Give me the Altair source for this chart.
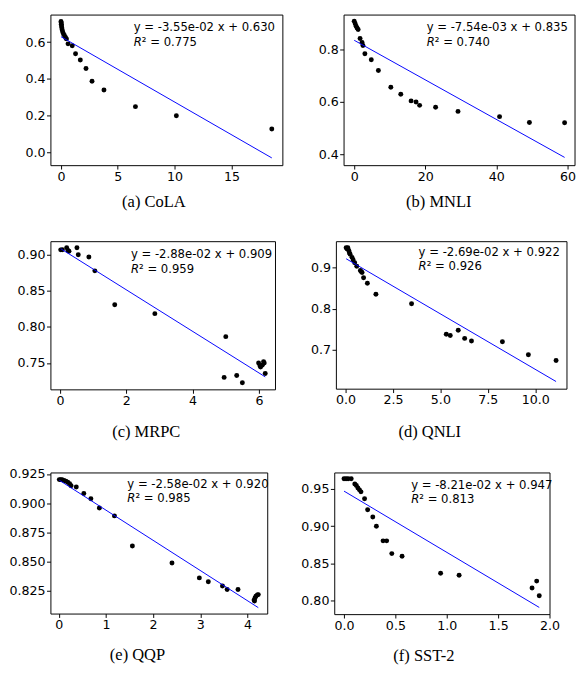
import altair as alt
import pandas as pd

# ---------------- data ----------------
cola_x = [0.00, 0.02, 0.03, 0.05, 0.07, 0.10, 0.15, 0.22, 0.30, 0.40, 0.48, 0.62, 0.99, 1.28, 1.70, 2.20, 2.73, 3.78, 6.55, 10.15, 18.55]
cola_y = [0.712, 0.705, 0.697, 0.688, 0.678, 0.668, 0.655, 0.645, 0.636, 0.625, 0.618, 0.591, 0.581, 0.537, 0.503, 0.457, 0.388, 0.340, 0.250, 0.200, 0.129]

mnli_x = [0.0, 0.27, 0.55, 0.8, 1.1, 1.64, 2.2, 2.45, 3.0, 4.8, 6.8, 10.3, 13.1, 16.0, 17.4, 18.4, 22.9, 29.2, 40.9, 49.3, 59.2]
mnli_y = [0.908, 0.898, 0.889, 0.882, 0.876, 0.842, 0.827, 0.815, 0.784, 0.761, 0.720, 0.656, 0.629, 0.604, 0.600, 0.587, 0.580, 0.564, 0.544, 0.522, 0.521]

mrpc_x = [0.02, 0.07, 0.20, 0.24, 0.27, 0.51, 0.55, 0.87, 1.05, 1.65, 2.86, 5.00, 4.95, 5.33, 5.50, 5.99, 6.03, 6.05, 6.10, 6.14, 6.16, 6.19]
mrpc_y = [0.9068, 0.907, 0.9096, 0.906, 0.905, 0.9096, 0.900, 0.897, 0.8777, 0.8307, 0.8184, 0.7865, 0.730, 0.7326, 0.7226, 0.750, 0.7463, 0.7445, 0.747, 0.7518, 0.750, 0.7353]

qnli_x = [0.03, 0.08, 0.12, 0.17, 0.20, 0.24, 0.34, 0.40, 0.48, 0.59, 0.78, 0.82, 0.87, 0.95, 1.15, 1.60, 3.48, 5.31, 5.52, 5.94, 6.28, 6.64, 8.27, 9.64, 11.10]
qnli_y = [0.9477, 0.945, 0.9477, 0.9415, 0.936, 0.932, 0.9246, 0.918, 0.9115, 0.903, 0.893, 0.890, 0.888, 0.875, 0.862, 0.835, 0.812, 0.738, 0.735, 0.748, 0.728, 0.7215, 0.720, 0.6885, 0.6746]

qqp_x = [0.01, 0.04, 0.07, 0.11, 0.15, 0.19, 0.23, 0.26, 0.37, 0.53, 0.68, 0.86, 1.18, 1.56, 2.40, 2.98, 3.17, 3.47, 3.57, 3.80, 4.14, 4.15, 4.16, 4.18, 4.21, 4.23]
qqp_y = [0.9203, 0.9203, 0.9201, 0.9195, 0.919, 0.918, 0.9168, 0.915, 0.914, 0.9085, 0.904, 0.896, 0.8893, 0.8635, 0.849, 0.8363, 0.833, 0.8294, 0.8264, 0.8264, 0.8173, 0.8165, 0.8192, 0.8206, 0.8217, 0.822]

sst2_x = [0.00, 0.02, 0.04, 0.07, 0.105, 0.12, 0.135, 0.15, 0.165, 0.20, 0.23, 0.28, 0.315, 0.38, 0.415, 0.465, 0.565, 0.94, 1.12, 1.83, 1.875, 1.90]
sst2_y = [0.9636, 0.9636, 0.9636, 0.9636, 0.9566, 0.9544, 0.9513, 0.9487, 0.946, 0.9368, 0.9219, 0.9123, 0.900, 0.8803, 0.8803, 0.8632, 0.8596, 0.8368, 0.8342, 0.8171, 0.8263, 0.8066]

captions = ["(a) CoLA", "(b) MNLI", "(c) MRPC", "(d) QNLI", "(e) QQP", "(f) SST-2"]
slopes = [-3.55e-02, -7.54e-03, -2.88e-02, -2.69e-02, -2.58e-02, -8.21e-02]
intercepts = [0.630, 0.835, 0.909, 0.922, 0.920, 0.947]
r2_values = ["0.775", "0.740", "0.959", "0.926", "0.985", "0.813"]
eq_texts = ["y = -3.55e-02 x + 0.630", "y = -7.54e-03 x + 0.835", "y = -2.88e-02 x + 0.909",
            "y = -2.69e-02 x + 0.922", "y = -2.58e-02 x + 0.920", "y = -8.21e-02 x + 0.947"]

x_domains = [[-0.93, 19.48], [-3.0, 62.0], [-0.29, 6.485], [-0.51, 11.65], [-0.178, 4.42], [-0.095, 2.0]]
y_domains = [[-0.068, 0.75], [0.359, 0.933], [0.7134, 0.9188], [0.606, 0.9638], [0.8058, 0.9264], [0.782, 0.972]]
x_ticks = [[0, 5, 10, 15], [0, 20, 40, 60], [0, 2, 4, 6], [0, 2.5, 5, 7.5, 10], [0, 1, 2, 3, 4], [0, 0.5, 1, 1.5, 2]]
y_ticks = [[0, 0.2, 0.4, 0.6], [0.4, 0.6, 0.8], [0.75, 0.80, 0.85, 0.90], [0.7, 0.8, 0.9],
           [0.825, 0.85, 0.875, 0.9, 0.925], [0.80, 0.85, 0.90, 0.95]]
x_formats = ["d", "d", "d", ".1f", "d", ".1f"]
y_formats = [".1f", ".1f", ".2f", ".1f", ".3f", ".2f"]

# ---------------- layout (styles) ----------------
widths = [239.2, 238.2, 231.6, 237.8, 223.6, 222.0]
heights = [155.3, 155.3, 152.8, 152.1, 145.5, 146.1]
extents = [34.8, 40, 42.7, 40, 50.7, 40]
text_x = [85.9, 85.7, 83.0, 85.3, 79.3, 79.3]
text_y1 = [12.7, 13.3, 13.5, 11.0, 11.8, 12.8]
text_y2 = [28.3, 28.3, 29.0, 26.0, 26.2, 27.0]
cap_x = [106.2, 97.7, 98.3, 96.3, 89.3, 92.0]
cap_y = [37.7, 37.7, 44.0, 44.7, 42.5, 42.5]

all_x = [cola_x, mnli_x, mrpc_x, qnli_x, qqp_x, sst2_x]
all_y = [cola_y, mnli_y, mrpc_y, qnli_y, qqp_y, sst2_y]

FONT = "DejaVu Sans"


def panel(i):
    xs, ys = all_x[i], all_y[i]
    pts = pd.DataFrame({"x": xs, "y": ys})
    xscale = alt.Scale(domain=x_domains[i], nice=False, zero=False)
    yscale = alt.Scale(domain=y_domains[i], nice=False, zero=False)
    xaxis = alt.Axis(values=x_ticks[i], tickCount=len(x_ticks[i]) + 2, format=x_formats[i],
                     title=captions[i], titleX=cap_x[i], titleY=cap_y[i], titleAlign="center",
                     titleBaseline="middle", labelFlush=False, labelOverlap=False,
                     labelPadding=1.5)
    yaxis = alt.Axis(values=y_ticks[i], tickCount=len(y_ticks[i]) + 2, format=y_formats[i],
                     title=None, minExtent=extents[i], maxExtent=extents[i],
                     labelOverlap=False, labelPadding=1.5)

    points = alt.Chart(pts).mark_circle(size=26, color="black", opacity=1).encode(
        x=alt.X("x:Q", scale=xscale, axis=xaxis),
        y=alt.Y("y:Q", scale=yscale, axis=yaxis),
    )
    line_df = pd.DataFrame({"x": [min(xs), max(xs)]})
    line = alt.Chart(line_df).transform_calculate(
        y=f"{intercepts[i]} + ({slopes[i]}) * datum.x"
    ).mark_line(color="#0000ff", strokeWidth=1).encode(
        x=alt.X("x:Q", scale=xscale),
        y=alt.Y("y:Q", scale=yscale),
    )
    eq = alt.Chart(pd.DataFrame({"t": [eq_texts[i]]})).mark_text(
        font=FONT, fontSize=12, align="left", baseline="middle", color="black"
    ).encode(text="t:N", x=alt.value(text_x[i]), y=alt.value(text_y1[i]))
    r_letter = alt.Chart(pd.DataFrame({"t": ["R"]})).mark_text(
        font=FONT, fontSize=12, fontStyle="italic", align="left", baseline="middle", color="black"
    ).encode(text="t:N", x=alt.value(text_x[i]), y=alt.value(text_y2[i]))
    r_rest = alt.Chart(pd.DataFrame({"t": ["\u00b2 = " + r2_values[i]]})).mark_text(
        font=FONT, fontSize=12, align="left", baseline="middle", color="black", dx=8.4
    ).encode(text="t:N", x=alt.value(text_x[i]), y=alt.value(text_y2[i]))
    return alt.layer(points, line, eq, r_letter, r_rest).properties(
        width=widths[i], height=heights[i])


row1 = alt.concat(panel(0), panel(1), columns=2, align="none", bounds="flush", spacing=62.3)
row2 = alt.concat(panel(2), panel(3), columns=2, align="none", bounds="flush", spacing=62.4)
row3 = alt.concat(panel(4), panel(5), columns=2, align="none", bounds="flush", spacing=68.7)

top_block = alt.concat(row1, row2, columns=1, align="none", spacing=30.7)
chart = alt.concat(top_block, row3, columns=1, align="none", spacing=28.2).properties(
    padding={"left": 0, "top": 3.5, "right": 0, "bottom": 0},
    background="white",
).configure_view(
    stroke="#000000", strokeWidth=1
).configure_axis(
    grid=False, domain=False,
    labelFont=FONT, labelFontSize=13, labelColor="black",
    tickColor="black", tickSize=4, tickWidth=1,
    titleFont="Liberation Serif", titleFontSize=17, titleFontWeight="normal", titleColor="black",
)

chart.save("out.html", embed_options={"renderer": "svg", "actions": False})
